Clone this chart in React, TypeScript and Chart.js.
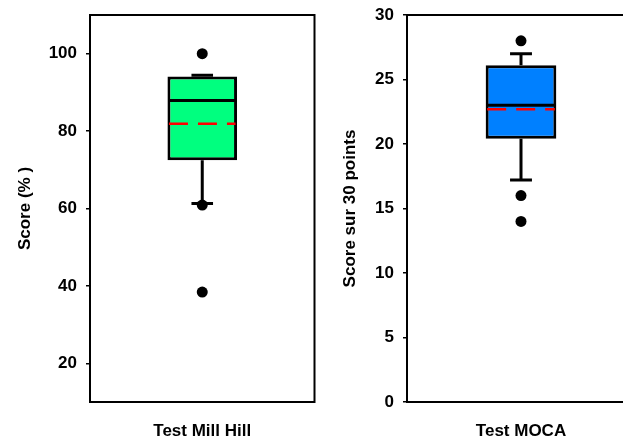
import React, { useEffect, useRef } from 'react';
import { Chart, registerables } from 'chart.js';

Chart.register(...registerables);

// ---- Data: Test Mill Hill ----
const millCategory = ['Test Mill Hill'];
const millBox = [72.5, 94.1]; // Q1, Q3
const millMedian = 87.9;
const millMean = 81.9;
const millWhiskers = [61.3, 94.4]; // lower, upper
const millOutliers = [100, 60.9, 38.4];
const millTicks = [20, 40, 60, 80, 100];
const millRange = [10, 110];

// ---- Data: Test MOCA ----
const mocaCategory = ['Test MOCA'];
const mocaBox = [20.4, 26.1];
const mocaMedian = 23.0;
const mocaMean = 22.7;
const mocaWhiskers = [17.2, 27.0];
const mocaOutliers = [28, 16, 14];
const mocaTicks = [0, 5, 10, 15, 20, 25, 30];
const mocaRange = [0, 30];

const FONT = 'Liberation Sans, Arial, sans-serif';

type PanelProps = {
  category: string[];
  box: number[];
  median: number;
  mean: number;
  whiskers: number[];
  outliers: number[];
  ticks: number[];
  range: number[];
  color: string;
  yTitle: string;
  width: number;
  axisWidth: number;
  padRight: number;
  titlePad: number;
};

function makeBoxPlugin(p: PanelProps) {
  return {
    id: 'boxExtras',
    beforeDatasetsDraw(chart: any) {
      const bar = chart.getDatasetMeta(0).data[0];
      if (!bar) return;
      const { x, width } = bar.getProps(['x', 'width'], true);
      const y = chart.scales.y;
      const ctx = chart.ctx;
      const capHalf = width * 0.155;
      ctx.save();
      ctx.strokeStyle = '#000';
      ctx.lineWidth = 3;
      ctx.beginPath();
      ctx.moveTo(x, y.getPixelForValue(p.box[0]));
      ctx.lineTo(x, y.getPixelForValue(p.whiskers[0]));
      ctx.moveTo(x, y.getPixelForValue(p.box[1]));
      ctx.lineTo(x, y.getPixelForValue(p.whiskers[1]));
      for (const w of p.whiskers) {
        const py = y.getPixelForValue(w);
        ctx.moveTo(x - capHalf, py);
        ctx.lineTo(x + capHalf, py);
      }
      ctx.stroke();
      ctx.restore();
    },
    afterDatasetsDraw(chart: any) {
      const bar = chart.getDatasetMeta(0).data[0];
      if (!bar) return;
      const { x, width } = bar.getProps(['x', 'width'], true);
      const y = chart.scales.y;
      const ctx = chart.ctx;
      const inset = 1.5;
      const left = x - width / 2 + inset;
      const right = x + width / 2 - inset;
      ctx.save();
      // median
      ctx.strokeStyle = '#000';
      ctx.lineWidth = 3;
      ctx.beginPath();
      const my = y.getPixelForValue(p.median);
      ctx.moveTo(left, my);
      ctx.lineTo(right, my);
      ctx.stroke();
      // mean
      ctx.strokeStyle = '#ff0000';
      ctx.lineWidth = 2.5;
      ctx.setLineDash([19, 10]);
      ctx.beginPath();
      const ay = y.getPixelForValue(p.mean);
      ctx.moveTo(left, ay);
      ctx.lineTo(right, ay);
      ctx.stroke();
      ctx.restore();
    },
    afterDraw(chart: any) {
      const { left, top, right, bottom } = chart.chartArea;
      const ctx = chart.ctx;
      ctx.save();
      ctx.strokeStyle = '#000';
      ctx.lineWidth = 2;
      ctx.strokeRect(left, top, right - left, bottom - top);
      ctx.restore();
    },
  };
}

function Panel(p: PanelProps) {
  const ref = useRef<HTMLCanvasElement | null>(null);
  useEffect(() => {
    if (!ref.current) return;
    const font = { family: FONT, size: 17, weight: 'bold' as const };
    const chart = new Chart(ref.current, {
      type: 'bar',
      data: {
        labels: p.category,
        datasets: [
          {
            type: 'bar',
            data: [p.box as any],
            backgroundColor: p.color,
            borderColor: '#000',
            borderWidth: 3,
            borderSkipped: false,
            barPercentage: 0.31,
            categoryPercentage: 1,
          } as any,
          {
            type: 'line',
            data: p.outliers.map((v) => ({ x: p.category[0], y: v })) as any,
            showLine: false,
            pointRadius: 5.5,
            pointHoverRadius: 5.5,
            pointBackgroundColor: '#000',
            pointBorderWidth: 0,
            borderColor: '#000',
          } as any,
        ],
      },
      options: {
        animation: false,
        responsive: false,
        events: [],
        layout: { padding: { top: 15, right: p.padRight, left: 0, bottom: 0 } },
        plugins: { legend: { display: false }, tooltip: { enabled: false } },
        scales: {
          x: {
            type: 'category',
            offset: true,
            grid: { display: false, drawTicks: false },
            border: { display: false },
            ticks: { color: '#000', font, padding: 19 },
            afterFit: (s: any) => {
              s.height = 39;
              s.paddingLeft = 0;
              s.paddingRight = 0;
            },
          },
          y: {
            type: 'linear',
            min: p.range[0],
            max: p.range[1],
            afterBuildTicks: (s: any) => {
              s.ticks = p.ticks.map((v) => ({ value: v }));
            },
            grid: {
              drawOnChartArea: false,
              drawTicks: true,
              tickLength: 4,
              color: '#000',
              lineWidth: 1.5,
            },
            border: { display: false },
            ticks: { color: '#000', font, padding: 9 },
            title: {
              display: true,
              text: p.yTitle,
              color: '#000',
              font,
              padding: { top: p.titlePad, bottom: 0 },
            },
            afterFit: (s: any) => {
              s.width = p.axisWidth;
              s.paddingTop = 0;
              s.paddingBottom = 0;
            },
          },
        },
      } as any,
      plugins: [makeBoxPlugin(p)],
    });
    return () => chart.destroy();
  }, []);
  return <canvas ref={ref} width={p.width} height={441} style={{ display: 'block' }} />;
}

export default function App() {
  return (
    <div
      style={{
        position: 'fixed',
        left: 0,
        top: 0,
        width: 623,
        height: 441,
        overflow: 'hidden',
        background: '#fff',
      }}
    >
      <div style={{ position: 'absolute', left: 0, top: 0 }}>
        <Panel
          category={millCategory}
          box={millBox}
          median={millMedian}
          mean={millMean}
          whiskers={millWhiskers}
          outliers={millOutliers}
          ticks={millTicks}
          range={millRange}
          color="#00ff7f"
          yTitle="Score (% )"
          width={320}
          axisWidth={90}
          padRight={4}
          titlePad={15}
        />
      </div>
      <div style={{ position: 'absolute', left: 320, top: 0 }}>
        <Panel
          category={mocaCategory}
          box={mocaBox}
          median={mocaMedian}
          mean={mocaMean}
          whiskers={mocaWhiskers}
          outliers={mocaOutliers}
          ticks={mocaTicks}
          range={mocaRange}
          color="#0080ff"
          yTitle="Score sur 30 points"
          width={330}
          axisWidth={87}
          padRight={15}
          titlePad={20}
        />
      </div>
    </div>
  );
}
